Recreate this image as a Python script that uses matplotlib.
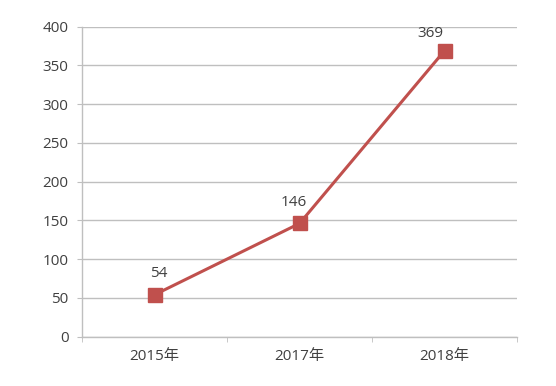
import numpy as np
import matplotlib.pyplot as plt

plt.rcParams['font.family'] = ['Open Sans', 'Noto Sans CJK SC', 'DejaVu Sans']

# data
years = ['2015年', '2017年', '2018年']
values = [54, 146, 369]
yticks = [0, 50, 100, 150, 200, 250, 300, 350, 400]

red = '#C0504D'
grey = '#BFBFBF'
txt = '#404040'

fig = plt.figure(figsize=(5.56, 3.86), dpi=100)
ax = fig.add_axes([0.1475, 0.128, 0.7825, 0.803])

x = np.arange(len(years))
ax.plot(x, values, color=red, lw=2.2, marker='s', ms=10, mfc=red, mec=red, zorder=3)

# value labels above markers
offsets = [(3, 10), (-4, 10), (-10, 7)]
for xi, v, off in zip(x, values, offsets):
    ax.annotate(str(v), (xi, v), xytext=off, textcoords='offset points',
                ha='center', va='bottom', fontsize=11, color=txt)

ax.set_xlim(-0.5, len(years) - 0.5)
ax.set_ylim(0, 400)
ax.set_yticks(yticks)
ax.set_xticks(x)
ax.set_xticklabels(years)
ax.set_xticks(np.arange(-0.5, len(years)), minor=True)

ax.grid(axis='y', color=grey, lw=1)
ax.set_axisbelow(True)
for s in ['top', 'right']:
    ax.spines[s].set_visible(False)
for s in ['left', 'bottom']:
    ax.spines[s].set_color(grey)
    ax.spines[s].set_linewidth(1)

ax.tick_params(axis='y', length=3.6, color=grey, labelsize=11, labelcolor=txt, pad=6)
ax.tick_params(axis='x', which='major', length=0, labelsize=11, labelcolor=txt, pad=9)
ax.tick_params(axis='x', which='minor', length=3.6, color=grey)

plt.savefig('out.png', dpi=100)
